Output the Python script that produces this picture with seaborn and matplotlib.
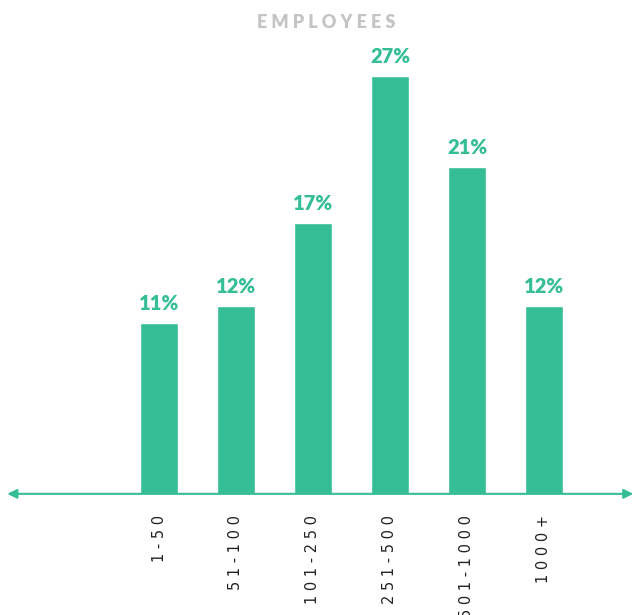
import matplotlib
matplotlib.use("Agg")
import matplotlib.pyplot as plt
import seaborn as sns
import pandas as pd

# Data
categories = ["1-50", "51-100", "101-250", "251-500", "501-1000", "1000+"]
bar_heights = [11.0, 12.1, 17.5, 27.0, 21.1, 12.1]
value_labels = ["11%", "12%", "17%", "27%", "21%", "12%"]

green = "#35BE96"

sns.set_style("white")
plt.rcParams["font.family"] = ["DejaVu Sans"]

df = pd.DataFrame({"size": categories, "share": bar_heights})

fig = plt.figure(figsize=(6.33, 6.15), dpi=100)
ax = fig.add_axes([0, 0.197, 1, 0.753])

sns.barplot(data=df, x="size", y="share", color=green, saturation=1, width=0.5, ax=ax)

ax.set_xlim(-2.065, 6.156)
ax.set_ylim(0, 29.9)

# value labels above the bars
for i, (h, lab) in enumerate(zip(bar_heights, value_labels)):
    ax.text(i, h + 0.65, lab, ha="center", va="bottom", color=green,
            fontsize=14.5, fontweight="heavy", family="Lato")

# axis line with arrows at both ends
ax.annotate("", xy=(-1.97, 0), xytext=(6.16, 0), xycoords="data",
            arrowprops=dict(arrowstyle="<|-|>", color=green, lw=1.5, mutation_scale=14,
                            shrinkA=0, shrinkB=0), annotation_clip=False)

sns.despine(ax=ax, left=True, bottom=True)
ax.set_yticks([])
ax.set_xlabel("")
ax.set_ylabel("")
ax.set_xticks(range(len(categories)))
ax.set_xticklabels([" ".join(c) for c in categories], rotation=90,
                   fontsize=10.5, color="#222222")
ax.tick_params(axis="x", length=0, pad=15)

fig.text(0.515, 0.963, " ".join("EMPLOYEES"), ha="center", va="center", color="#C4C4C4",
         fontsize=13, fontweight="heavy", family="Lato")

fig.savefig("out.png", dpi=100)
